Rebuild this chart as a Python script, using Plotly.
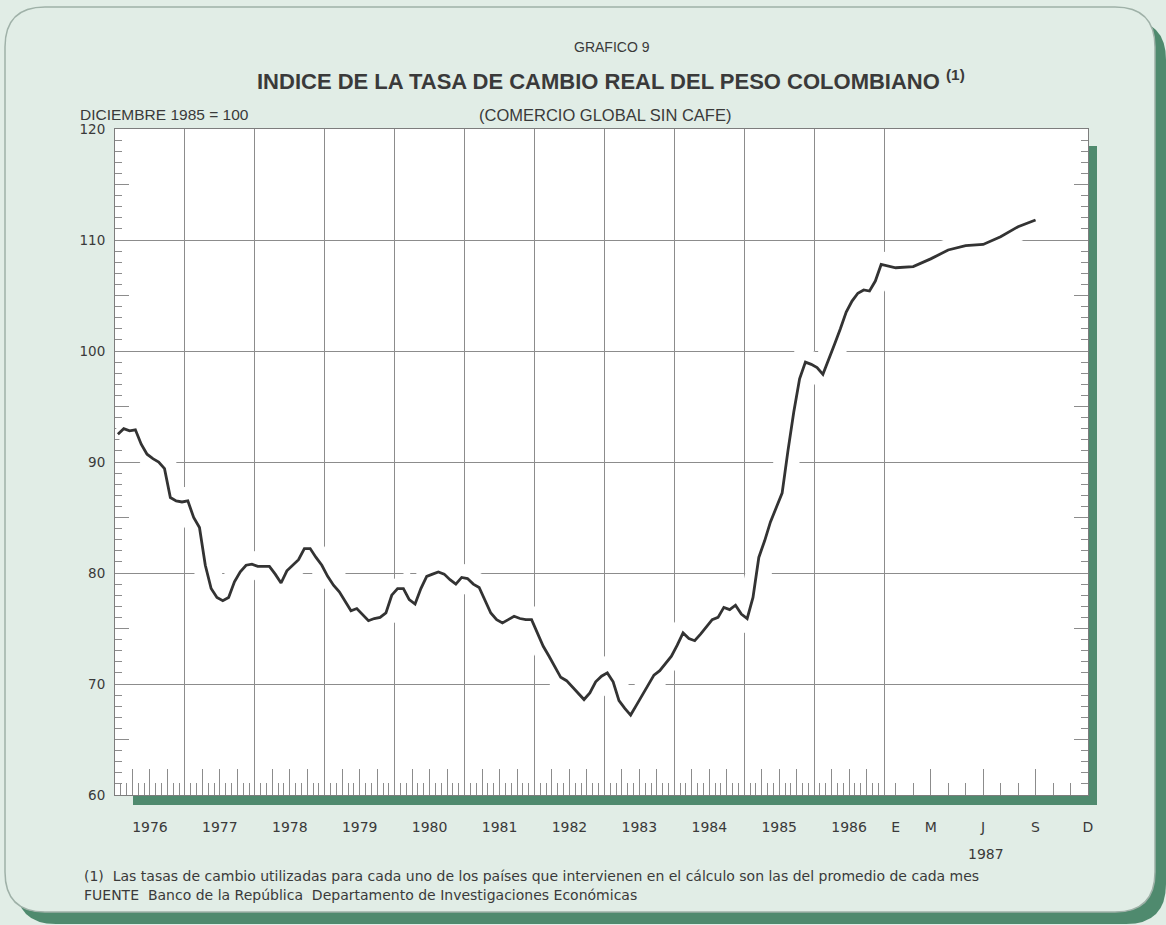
import plotly.graph_objects as go

# ---------------- data ----------------
years = list(range(1976, 1987))
v1976 = [92.5, 93.0, 92.8, 92.9, 91.6, 90.7, 90.3, 90.0, 89.4, 86.8, 86.5, 86.4]
v1977 = [86.5, 85.0, 84.1, 80.7, 78.6, 77.8, 77.5, 77.8, 79.2, 80.1, 80.7, 80.8]
v1978 = [80.6, 80.6, 80.6, 79.9, 79.1, 80.2, 80.7, 81.2, 82.2, 82.2, 81.4, 80.7]
v1979 = [79.7, 78.9, 78.3, 77.4, 76.6, 76.8, 76.2, 75.7, 75.9, 76.0, 76.4, 78.0]
v1980 = [78.6, 78.6, 77.6, 77.2, 78.6, 79.7, 79.9, 80.1, 79.9, 79.4, 79.0, 79.6]
v1981 = [79.5, 79.0, 78.7, 77.5, 76.4, 75.8, 75.5, 75.8, 76.1, 75.9, 75.8, 75.8]
v1982 = [74.6, 73.4, 72.5, 71.5, 70.6, 70.3, 69.7, 69.1, 68.6, 69.2, 70.2, 70.7]
v1983 = [71.0, 70.2, 68.5, 67.8, 67.2, 68.1, 69.0, 69.9, 70.8, 71.2, 71.8, 72.5]
v1984 = [73.5, 74.6, 74.1, 73.9, 74.5, 75.1, 75.8, 76.0, 76.9, 76.7, 77.1, 76.3]
v1985 = [75.9, 77.8, 81.4, 82.9, 84.6, 85.9, 87.2, 91.0, 94.5, 97.5, 99.0, 98.8]
v1986 = [98.5, 97.9, 99.2, 100.6, 102.0, 103.5, 104.5, 105.2, 105.5, 105.4, 106.3, 107.8]
v1987 = [107.5, 107.6, 108.3, 109.1, 109.5, 109.6, 110.3, 111.2, 111.8]
values_by_year = {1976: v1976, 1977: v1977, 1978: v1978, 1979: v1979, 1980: v1980,
                  1981: v1981, 1982: v1982, 1983: v1983, 1984: v1984, 1985: v1985,
                  1986: v1986}

year_labels = [str(y) for y in years]
labels_1987 = ["E", "M", "J", "S", "D"]
label_months_1987 = [0, 2, 5, 8, 11]
y_tick_labels = [60, 70, 80, 90, 100, 110, 120]
y_half_ticks = [65, 75, 85, 95, 105, 115]


# axis scale: each year 1976-1986 takes 12 units, each month of 1987 takes 3 units
def pos(year, m):
    if year < 1987:
        return (year - 1976) * 12 + m + 0.5
    return 132 + 3 * m + 2


xs, ys = [], []
for yr in years:
    for m, v in enumerate(values_by_year[yr]):
        xs.append(pos(yr, m))
        ys.append(v)
for m, v in enumerate(v1987):
    xs.append(pos(1987, m))
    ys.append(v)

X_MAX = pos(1987, 11)
label_pos = [(yr - 1976) * 12 + 6 for yr in years] + [pos(1987, m) for m in label_months_1987]
label_txt = year_labels + labels_1987
grid_pos = [(yr - 1976) * 12 for yr in range(1977, 1988)]
quarter_ticks = [(yr - 1976) * 12 + q for yr in years for q in (3, 6, 9)] + \
                [pos(1987, m) for m in (2, 5, 8)]
month_ticks = [(yr - 1976) * 12 + m for yr in years for m in (1, 2, 4, 5, 7, 8, 10, 11)] + \
              [pos(1987, m) for m in (0, 1, 3, 4, 6, 7, 9, 10)]

# ---------------- layout geometry ----------------
W, H = 1166, 925
L, R, T, B = 115, 1088, 129, 795


def px(xp):
    return (xp - L) / (R - L)


def py(yp):
    return (B - yp) / (B - T)


def rrect(x0, y0, x1, y1, r):
    def P(a, b):
        return f"{px(a):.5f},{py(b):.5f}"
    return (f"M {P(x0 + r, y0)} L {P(x1 - r, y0)} Q {P(x1, y0)} {P(x1, y0 + r)} "
            f"L {P(x1, y1 - r)} Q {P(x1, y1)} {P(x1 - r, y1)} "
            f"L {P(x0 + r, y1)} Q {P(x0, y1)} {P(x0, y1 - r)} "
            f"L {P(x0, y0 + r)} Q {P(x0, y0)} {P(x0 + r, y0)} Z")


BG = "#e1ede6"
SHADOW = "#4f8a6e"
GRID = "#8c8c8c"
TXT = "#3a3a3a"
NARROW = "Liberation Sans Narrow, Arial Narrow, Liberation Sans, sans-serif"
BODY = "DejaVu Sans, sans-serif"

fig = go.Figure()
# invisible anchors so that the overlay axes (grid / ticks) get drawn
for xa, ya in (("x2", "y"), ("x3", "y"), ("x", "y2"), ("x", "y3")):
    fig.add_trace(go.Scatter(x=[1], y=[61], xaxis=xa, yaxis=ya, mode="markers",
                             marker=dict(opacity=0, size=1), hoverinfo="skip",
                             showlegend=False))
# white halo (the print breaks the grid lines around the curve)
fig.add_trace(go.Scatter(x=xs, y=ys, mode="lines", line=dict(color="white", width=26),
                         xaxis="x3", yaxis="y", hoverinfo="skip", showlegend=False))
fig.add_trace(go.Scatter(x=xs, y=ys, mode="lines", line=dict(color="#333333", width=2.8),
                         xaxis="x3", yaxis="y", hoverinfo="skip", showlegend=False))

shapes = [
    dict(type="path", xref="paper", yref="paper", path=rrect(16, 20, 1166, 924, 40),
         fillcolor=SHADOW, line=dict(width=0), layer="below"),
    dict(type="path", xref="paper", yref="paper", path=rrect(5, 7, 1155, 912, 40),
         fillcolor=BG, line=dict(color="#9fb1a8", width=1.5), layer="below"),
    dict(type="rect", xref="paper", yref="paper", x0=px(133), x1=px(1097), y0=py(805), y1=py(146),
         fillcolor=SHADOW, line=dict(width=0), layer="below"),
    dict(type="rect", xref="paper", yref="paper", x0=0, x1=1, y0=0, y1=1,
         fillcolor="white", line=dict(width=0), layer="below"),
]


def ann(text, xp, yp, size, family, xanchor="center", weight="normal"):
    return dict(text=text, x=px(xp), y=py(yp), xref="paper", yref="paper",
                xanchor=xanchor, yanchor="middle", showarrow=False,
                font=dict(size=size, family=family, color=TXT, weight=weight))


annotations = [
    ann("GRAFICO 9", 612, 47, 14, NARROW),
    ann("INDICE DE LA TASA DE CAMBIO REAL DEL PESO COLOMBIANO <sup>(1)</sup>", 611, 80, 22,
        NARROW, weight="bold"),
    ann("DICIEMBRE 1985 = 100", 78, 115, 15.5, NARROW, xanchor="left"),
    ann("(COMERCIO GLOBAL SIN CAFE)", 605, 115, 16.5, NARROW),
    ann("(1)  Las tasas de cambio utilizadas para cada uno de los países que intervienen en el "
        "cálculo son las del promedio de cada mes", 82, 876, 14, BODY, xanchor="left"),
    ann("FUENTE  Banco de la República  Departamento de Investigaciones Económicas",
        82, 895, 14, BODY, xanchor="left"),
    dict(text="1987", x=(pos(1987, 0) + pos(1987, 11)) / 2 - 1, y=py(854), xref="x", yref="paper",
         showarrow=False, xanchor="center", yanchor="middle",
         font=dict(size=14, family=BODY, color=TXT)),
]

axis_common = dict(range=[0, X_MAX], fixedrange=True, zeroline=False)
yaxis_common = dict(range=[60, 120], fixedrange=True, zeroline=False)

fig.update_layout(
    width=W, height=H,
    margin=dict(l=L, r=W - R, t=T, b=H - B, pad=0),
    paper_bgcolor=BG, plot_bgcolor="rgba(0,0,0,0)",
    showlegend=False,
    shapes=shapes, annotations=annotations,
    xaxis=dict(**axis_common, tickmode="array", tickvals=label_pos, ticktext=label_txt,
               ticks="", showgrid=False, showline=True, linecolor="#7d7d7d", linewidth=1,
               mirror=True, ticklabelstandoff=19,
               tickfont=dict(size=14, family=BODY, color=TXT)),
    xaxis2=dict(**axis_common, overlaying="x", anchor="y", tickmode="array", tickvals=grid_pos,
                ticks="", showticklabels=False, showgrid=True, gridcolor=GRID, gridwidth=1,
                showline=False),
    xaxis3=dict(**axis_common, overlaying="x", anchor="y", tickmode="array",
                tickvals=quarter_ticks, ticks="inside", ticklen=26, tickcolor=GRID, tickwidth=1,
                showticklabels=False, showgrid=False, showline=False,
                minor=dict(tickmode="array", tickvals=month_ticks, ticks="inside", ticklen=12,
                           tickcolor=GRID, tickwidth=1, showgrid=False)),
    yaxis=dict(**yaxis_common, tickmode="array", tickvals=y_tick_labels,
               ticktext=[str(v) for v in y_tick_labels],
               ticks="inside", ticklen=14, tickcolor=GRID, tickwidth=1,
               showgrid=False, showline=True, linecolor="#7d7d7d", linewidth=1, mirror="ticks",
               ticklabelstandoff=6,
               minor=dict(dtick=1, ticks="inside", ticklen=7, tickcolor=GRID, tickwidth=1,
                          showgrid=False),
               tickfont=dict(size=13.5, family=BODY, color=TXT)),
    yaxis2=dict(**yaxis_common, overlaying="y", anchor="x",
                tickmode="array", tickvals=[70, 80, 90, 100, 110], ticks="",
                showticklabels=False, showgrid=True, gridcolor=GRID, gridwidth=1, showline=False),
    yaxis3=dict(**yaxis_common, overlaying="y", anchor="x", side="left",
                tickmode="array", tickvals=y_half_ticks, ticks="inside", ticklen=14,
                tickcolor=GRID, tickwidth=1, showticklabels=False, showgrid=False,
                showline=False, mirror="ticks"),
)

fig.write_html("out.html", config={"displayModeBar": False, "staticPlot": True},
               post_script="document.body.style.margin='0px';")
